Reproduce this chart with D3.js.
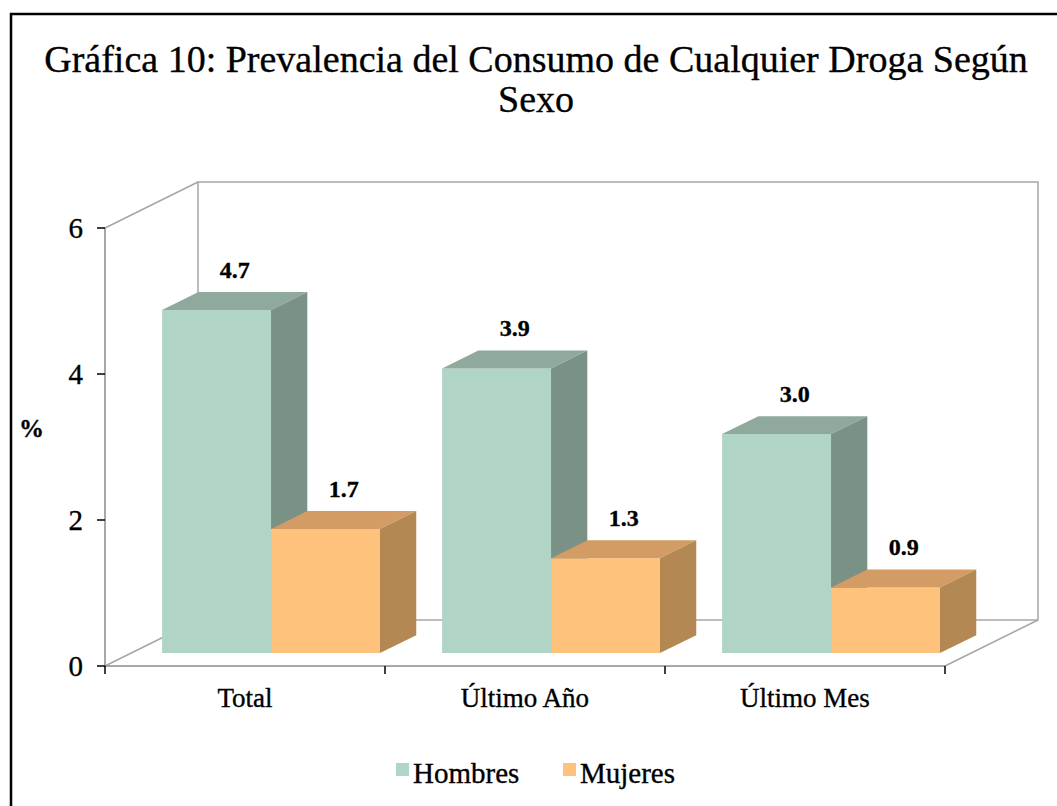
<!DOCTYPE html>
<head>
<meta charset="utf-8">
<script src="https://d3js.org/d3.v7.min.js"></script>
<title>Gráfica 10</title>
<style>
  body { margin: 0; background: #fff; }
  text { font-family: "Liberation Serif", "Times New Roman", serif; fill: #000; stroke: #000; stroke-width: 0.35px; }
</style>
</head>
<body>
<svg id="chart" width="1057" height="806"></svg>
<script>
// data
const categories = ["Total", "Último Año", "Último Mes"];
const series = ["Hombres", "Mujeres"];
const hombres = [4.7, 3.9, 3.0];
const mujeres = [1.7, 1.3, 0.9];
const yTicks = [0, 2, 4, 6];

const frontColors = ["#B0D4C5", "#FFC27D"];
const topColors = ["#8FAA9C", "#D29C64"];
const sideColors = ["#7A9185", "#B38852"];

const svg = d3.select("#chart");

// depth of the 3d box (oblique projection)
const DX = 93, DY = 46;
const z0 = 0.28, z1 = 0.67;

const x0 = d3.scaleBand().domain(categories).range([105, 945]);
const x1 = d3.scaleBand().domain(series).range([0, x0.bandwidth()]).paddingOuter(0.285);
const y = d3.scaleLinear().domain([0, 6]).range([666, 228]);

function p(x, v, z) { return [x + z * DX, y(v) - z * DY]; }
function poly(pts) { return "M" + pts.map(d => d[0] + "," + d[1]).join("L") + "Z"; }

// frame
svg.append("path").attr("d", "M11,806V14H1057").attr("fill", "none").attr("stroke", "#000").attr("stroke-width", 2.5);

// title
svg.append("text").attr("x", 536).attr("y", 72).attr("text-anchor", "middle")
  .attr("font-size", "38px").text("Gráfica 10: Prevalencia del Consumo de Cualquier Droga Según");
svg.append("text").attr("x", 536).attr("y", 112).attr("text-anchor", "middle")
  .attr("font-size", "38px").text("Sexo");

// walls
const xl = x0.range()[0], xr = x0.range()[1];
const wall = svg.append("g").attr("fill", "none").attr("stroke", "#A6A6A6").attr("stroke-width", 1.5);
wall.append("path").attr("d", poly([p(xl, 0, 1), p(xl, 6, 1), p(xr, 6, 1), p(xr, 0, 1)]));
wall.append("path").attr("d", "M" + p(xl, 6, 0) + "L" + p(xl, 6, 1));
wall.append("path").attr("d", "M" + p(xl, 0, 0) + "L" + p(xl, 0, 1));
wall.append("path").attr("d", "M" + p(xr, 0, 0) + "L" + p(xr, 0, 1));
wall.append("path").attr("d", "M" + p(xl, 6, 0) + "L" + p(xl, 0, 0) + "L" + p(xr, 0, 0)).attr("stroke", "#8C8C8C");

// y axis ticks
yTicks.forEach(t => {
  svg.append("line").attr("x1", xl - 8).attr("x2", xl).attr("y1", y(t)).attr("y2", y(t))
    .attr("stroke", "#000").attr("stroke-width", 1.5);
  svg.append("text").attr("x", 83).attr("y", y(t) + 10).attr("text-anchor", "end")
    .attr("font-size", "29px").text(t);
});
svg.append("text").attr("x", 19).attr("y", 437).attr("font-size", "25px").attr("font-weight", "bold").text("%");

// x axis ticks + labels
const catEdges = [xl].concat(categories.map(c => x0(c) + x0.bandwidth()));
catEdges.forEach(e => {
  svg.append("line").attr("x1", e).attr("x2", e).attr("y1", y(0)).attr("y2", y(0) + 8)
    .attr("stroke", "#000").attr("stroke-width", 1.5);
});
categories.forEach(c => {
  svg.append("text").attr("x", x0(c) + x0.bandwidth() / 2).attr("y", 707).attr("text-anchor", "middle")
    .attr("font-size", "27px").text(c);
});

// bars
const values = [hombres, mujeres];
categories.forEach((c, i) => {
  series.forEach((s, j) => {
    const v = values[j][i];
    const a = x0(c) + x1(s), b = a + x1.bandwidth();
    const g = svg.append("g");
    g.append("path").attr("d", poly([p(a, 0, z0), p(b, 0, z0), p(b, v, z0), p(a, v, z0)]))
      .attr("fill", frontColors[j]);
    g.append("path").attr("d", poly([p(a, v, z0), p(b, v, z0), p(b, v, z1), p(a, v, z1)]))
      .attr("fill", topColors[j]);
    g.append("path").attr("d", poly([p(b, 0, z0), p(b, 0, z1), p(b, v, z1), p(b, v, z0)]))
      .attr("fill", sideColors[j]);
  });
});

// value labels
categories.forEach((c, i) => {
  series.forEach((s, j) => {
    const v = values[j][i];
    const cx = x0(c) + x1(s) + x1.bandwidth() / 2 + (z0 + z1) / 2 * DX;
    svg.append("text").attr("x", cx).attr("y", y(v) - z1 * DY - 14).attr("text-anchor", "middle")
      .attr("font-size", "24px").attr("font-weight", "bold").attr("stroke-width", 0).text(v.toFixed(1));
  });
});

// legend
const legendX = [396, 563];
series.forEach((s, j) => {
  svg.append("rect").attr("x", legendX[j]).attr("y", 763).attr("width", 13).attr("height", 13)
    .attr("fill", frontColors[j]);
  svg.append("text").attr("x", legendX[j] + 17).attr("y", 783).attr("font-size", "29px").text(s);
});
</script>
</body>
</html>
